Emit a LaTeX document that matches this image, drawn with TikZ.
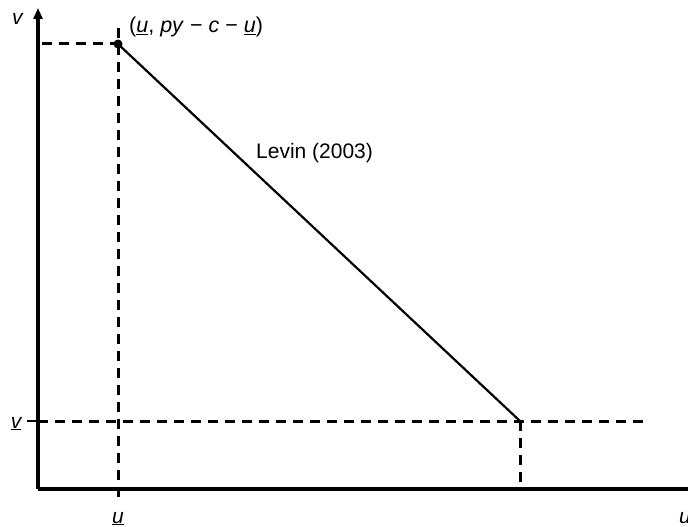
\documentclass[tikz,border=0pt]{standalone}
\usepackage{fontspec}
\setmainfont{Liberation Sans}
\usetikzlibrary{arrows.meta, positioning}

\begin{document}
\begin{tikzpicture}[x=1pt, y=-1pt,
    axis/.style={line width=3.4pt},
    guide/.style={line width=3pt, dash pattern=on 10pt off 7pt},
    lbl/.style={font=\fontsize{21}{25}\selectfont, inner sep=0pt}]
  \useasboundingbox (0,0) rectangle (688,527);

  % axes
  \coordinate (O) at (38,489);
  \coordinate (ytop) at (38,8);
  \coordinate (xend) at (692,489);
  \draw[axis, -{Triangle[length=11pt, width=9pt]}] (O) -- (ytop);
  \draw[axis] (O) -- (xend);

  % corner points
  \coordinate (A) at (118,44);
  \coordinate (B) at (520,421);
  \coordinate (Atop) at (118,28);
  \coordinate (Abot) at (118,503);
  \coordinate (Aleft) at (42,44);
  \coordinate (Bleft) at (38,421);
  \coordinate (Bright) at (650,421);
  \coordinate (Bbot) at (520,489);
  \coordinate (tick) at (27,421);

  % guides
  \draw[guide] (Atop) -- (Abot);
  \draw[guide] (Aleft) -- (A);
  \draw[guide] (Bleft) -- (Bright);
  \draw[guide] (B) -- (Bbot);
  \draw[line width=2pt] (tick) -- (Bleft);

  % Levin line
  \draw[line width=2.2pt] (A) -- (B);
  \fill (A) circle (4.5pt);

  % labels
  \node[lbl, anchor=base] (vlab) at (18,25) {\textit{v}};
  \node[lbl, anchor=base] (vlow) at (16,428) {\textit{\underline{v}}};
  \node[lbl, anchor=base] (ulow) at (118,523) {\textit{\underline{u}}};
  \node[lbl, anchor=base west] (ulab) at (679,523) {\textit{u}};
  \node[lbl, font=\fontsize{21.5}{26}\selectfont, anchor=base west] (pt) at (129,33)
    {(\textit{\underline{u}}, \textit{py} − \textit{c} − \textit{\underline{u}})};
  \node[lbl, anchor=base west] (levin) at (256,158) {Levin (2003)};
\end{tikzpicture}
\end{document}
